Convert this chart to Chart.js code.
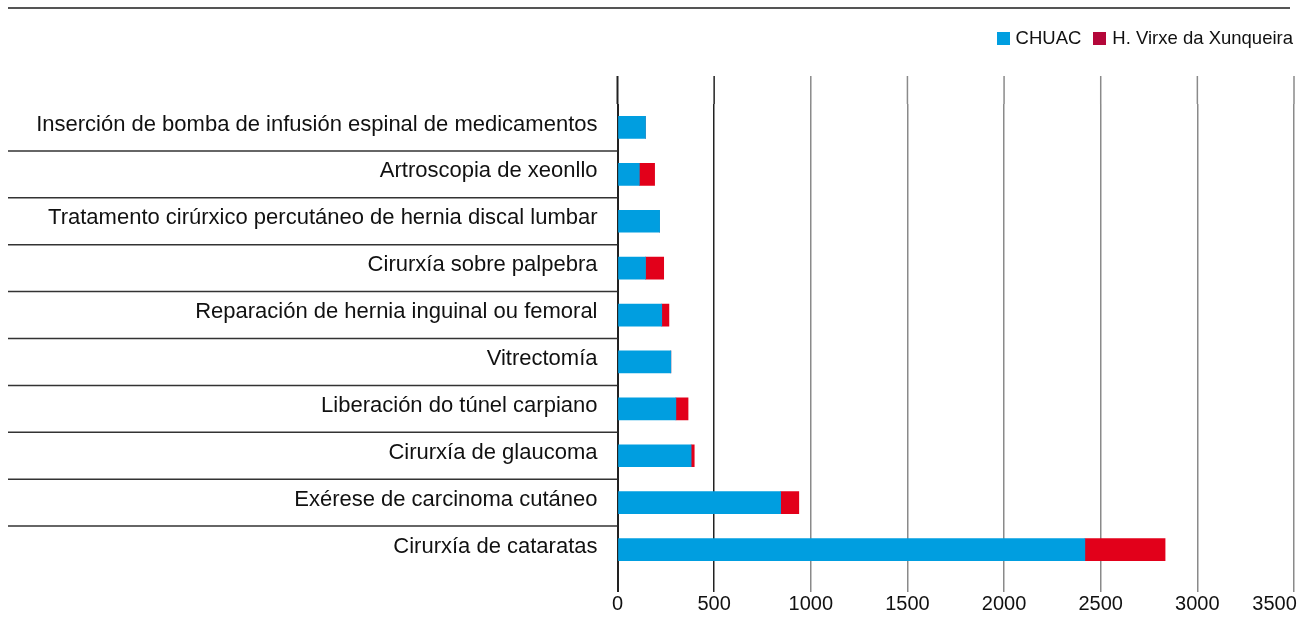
<!DOCTYPE html>
<html>
<head>
<meta charset="utf-8">
<script src="https://cdn.jsdelivr.net/npm/chart.js"></script>
<style>
    body { margin: 0; background: #fff; font-family: "Liberation Sans", Arial, sans-serif; }
    #wrap { position: relative; width: 1314px; height: 639px; }
    #topline { position: absolute; left: 8px; top: 7px; width: 1282px; height: 2px; background: #555; }
    #legend { position: absolute; right: 21px; top: 27px; font-size: 18.5px; color: #111; display: flex; align-items: center; }
    #legend span.box { display: inline-block; width: 13px; height: 13px; margin-right: 6px; }
    #legend span.item { display: inline-flex; align-items: center; margin-left: 12px; }
</style>
</head>
<body>
<div id="wrap">
    <div id="topline"></div>
    <div id="legend"></div>
    <canvas id="chart"></canvas>
</div>
<script>
// procedures, bottom of the list = largest
const categories = [
    'Inserción de bomba de infusión espinal de medicamentos',
    'Artroscopia de xeonllo',
    'Tratamento cirúrxico percutáneo de hernia discal lumbar',
    'Cirurxía sobre palpebra',
    'Reparación de hernia inguinal ou femoral',
    'Vitrectomía',
    'Liberación do túnel carpiano',
    'Cirurxía de glaucoma',
    'Exérese de carcinoma cutáneo',
    'Cirurxía de cataratas'
]

const chuac = [145, 113, 218, 145, 229, 276, 302, 381, 844, 2418]
const xunqueira = [0, 79, 0, 94, 37, 0, 63, 16, 94, 415]

const seriesNames = ['CHUAC', 'H. Virxe da Xunqueira']
const barColors = ['#009ee0', '#e2001a']
const legendColors = ['#009ee0', '#b4073a']

const xTicks = [0, 500, 1000, 1500, 2000, 2500, 3000, 3500]

// html legend
const legend = document.getElementById('legend')
seriesNames.forEach((name, i) => {
    const item = document.createElement('span')
    item.className = 'item'
    item.innerHTML = '<span class="box" style="background:' + legendColors[i] + '"></span>' + name
    legend.appendChild(item)
})

function gridColor(v) {
    return v <= 500 ? '#222' : '#8a8a8a'
}

function gridWidth(v) {
    return v === 0 ? 2 : 1.5
}

// separators between categories, left of the axis
const separatorPlugin = {
    id: 'separators',
    afterDraw(chart) {
        const ctx = chart.ctx
        const y = chart.scales.y
        ctx.save()
        ctx.strokeStyle = '#333'
        ctx.lineWidth = 1.5
        for (let i = 0; i < categories.length - 1; i++) {
            const py = (y.getPixelForValue(i) + y.getPixelForValue(i + 1)) / 2
            ctx.beginPath()
            ctx.moveTo(8, py)
            ctx.lineTo(chart.chartArea.left, py)
            ctx.stroke()
        }
        ctx.restore()
    }
}

// vertical grid lines run a bit above the bars
const gridExtendPlugin = {
    id: 'gridExtend',
    beforeDatasetsDraw(chart) {
        const ctx = chart.ctx
        const x = chart.scales.x
        ctx.save()
        xTicks.forEach(v => {
            const px = x.getPixelForValue(v)
            ctx.strokeStyle = gridColor(v)
            ctx.lineWidth = gridWidth(v)
            ctx.beginPath()
            ctx.moveTo(px, 76)
            ctx.lineTo(px, chart.chartArea.top)
            ctx.stroke()
        })
        ctx.restore()
    }
}

new Chart(
    document.getElementById('chart'),
    {
        type: 'bar',

        data: {
            labels: categories,
            datasets: [
                {
                    label: seriesNames[0],
                    data: chuac,
                    backgroundColor: barColors[0],
                    barThickness: 22
                },
                {
                    label: seriesNames[1],
                    data: xunqueira,
                    backgroundColor: barColors[1],
                    barThickness: 22
                }
            ]
        },

        options: {
            indexAxis: 'y',
            responsive: true,
            maintainAspectRatio: false,
            animation: false,
            layout: {
                padding: { top: 104, right: 20, left: 0, bottom: 0 }
            },
            plugins: {
                legend: { display: false },
                tooltip: { enabled: false }
            },
            scales: {
                x: {
                    stacked: true,
                    min: 0,
                    max: 3500,
                    afterBuildTicks(scale) {
                        scale.ticks = xTicks.map(v => ({ value: v }))
                    },
                    afterFit(scale) {
                        scale.height = 66
                        scale.paddingLeft = 0
                        scale.paddingRight = 0
                    },
                    border: { display: false },
                    grid: {
                        color: c => gridColor(c.tick.value),
                        lineWidth: c => gridWidth(c.tick.value),
                        tickLength: 19,
                        tickColor: c => gridColor(c.tick.value)
                    },
                    ticks: {
                        color: '#111',
                        padding: 0,
                        maxRotation: 0,
                        // last label sits left of its line, as in the print
                        callback: v => v === 3500 ? '3500' + ' '.repeat(7) : String(v),
                        font: { family: '"Liberation Sans", Arial, sans-serif', size: 20 }
                    }
                },
                y: {
                    stacked: true,
                    afterFit(scale) {
                        scale.width = 617.5
                    },
                    border: { display: false },
                    grid: { display: false },
                    ticks: {
                        color: '#111',
                        padding: 12,
                        labelOffset: -3,
                        font: { family: '"Liberation Sans", Arial, sans-serif', size: 22 }
                    }
                }
            }
        },

        plugins: [separatorPlugin, gridExtendPlugin]
    }
)
</script>
</body>
</html>
